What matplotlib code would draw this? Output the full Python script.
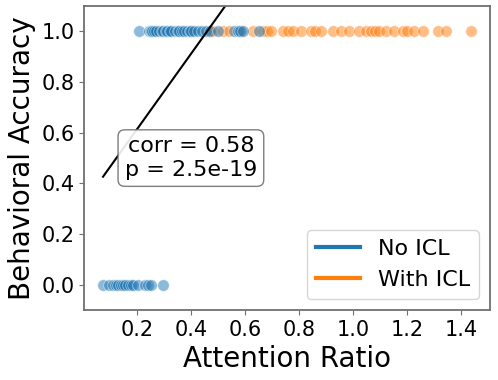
import numpy as np
import matplotlib
matplotlib.use("Agg")
import matplotlib.pyplot as plt

# attention ratio values, grouped by condition and accuracy
no_icl_x_wrong = [0.073, 0.096, 0.110, 0.120, 0.129, 0.140, 0.147, 0.155, 0.166,
                  0.175, 0.184, 0.203, 0.227, 0.240, 0.252, 0.295]
no_icl_x_right = [0.207, 0.244, 0.250, 0.255, 0.262, 0.270, 0.280, 0.290, 0.296,
                  0.305, 0.310, 0.320, 0.326, 0.340, 0.350, 0.356, 0.365, 0.374,
                  0.385, 0.395, 0.400, 0.412, 0.426, 0.440, 0.456, 0.470, 0.500,
                  0.559, 0.574, 0.580, 0.593, 0.652]
with_icl_x = [0.390, 0.467, 0.481, 0.519, 0.541, 0.585, 0.630, 0.667, 0.680, 0.696,
              0.741, 0.760, 0.778, 0.807, 0.844, 0.860, 0.881, 0.926, 0.956,
              0.985, 1.022, 1.048, 1.067, 1.080, 1.096, 1.122, 1.152, 1.185,
              1.200, 1.226, 1.259, 1.315, 1.344, 1.437]

fit_slope = 1.487
fit_intercept = 0.318
corr_text = "corr = 0.58\np = 2.5e-19"

blue = "#1f77b4"
orange = "#ff7f0e"

fig = plt.figure(figsize=(4.98, 3.8), dpi=100)
ax = fig.add_axes([0.169, 0.184, 0.815, 0.800])

no_x = np.array(no_icl_x_wrong + no_icl_x_right)
no_y = np.array([0.0] * len(no_icl_x_wrong) + [1.0] * len(no_icl_x_right))
wi_x = np.array(with_icl_x)
wi_y = np.ones(len(with_icl_x))

ax.scatter(wi_x, wi_y, s=70, color=orange, alpha=0.5, edgecolor="white", linewidth=0.6)
ax.scatter(no_x, no_y, s=70, color=blue, alpha=0.5, edgecolor="white", linewidth=0.6)

all_x = np.concatenate([no_x, wi_x])
xs = np.array([all_x.min(), all_x.max()])
ax.plot(xs, fit_slope * xs + fit_intercept, color="black", lw=1.5)

ax.set_xlim(0.003, 1.508)
ax.set_ylim(-0.1, 1.1)
ax.set_xticks([0.2, 0.4, 0.6, 0.8, 1.0, 1.2, 1.4])
ax.set_yticks([0.0, 0.2, 0.4, 0.6, 0.8, 1.0])
ax.tick_params(labelsize=15, color="#707070")
for sp in ax.spines.values():
    sp.set_color("#707070")
    sp.set_linewidth(1.3)

ax.set_xlabel("Attention Ratio", fontsize=20)
ax.set_ylabel("Behavioral Accuracy", fontsize=20)

ax.text(0.263, 0.50, corr_text, transform=ax.transAxes, fontsize=16,
        ha="center", va="center", multialignment="center",
        bbox=dict(boxstyle="round,pad=0.3", facecolor="white", edgecolor="#707070", alpha=0.9))

ax.plot([], [], color=blue, lw=3, label="No ICL")
ax.plot([], [], color=orange, lw=3, label="With ICL")
ax.legend(loc="lower right", fontsize=16)

fig.savefig("out.png", dpi=100)
